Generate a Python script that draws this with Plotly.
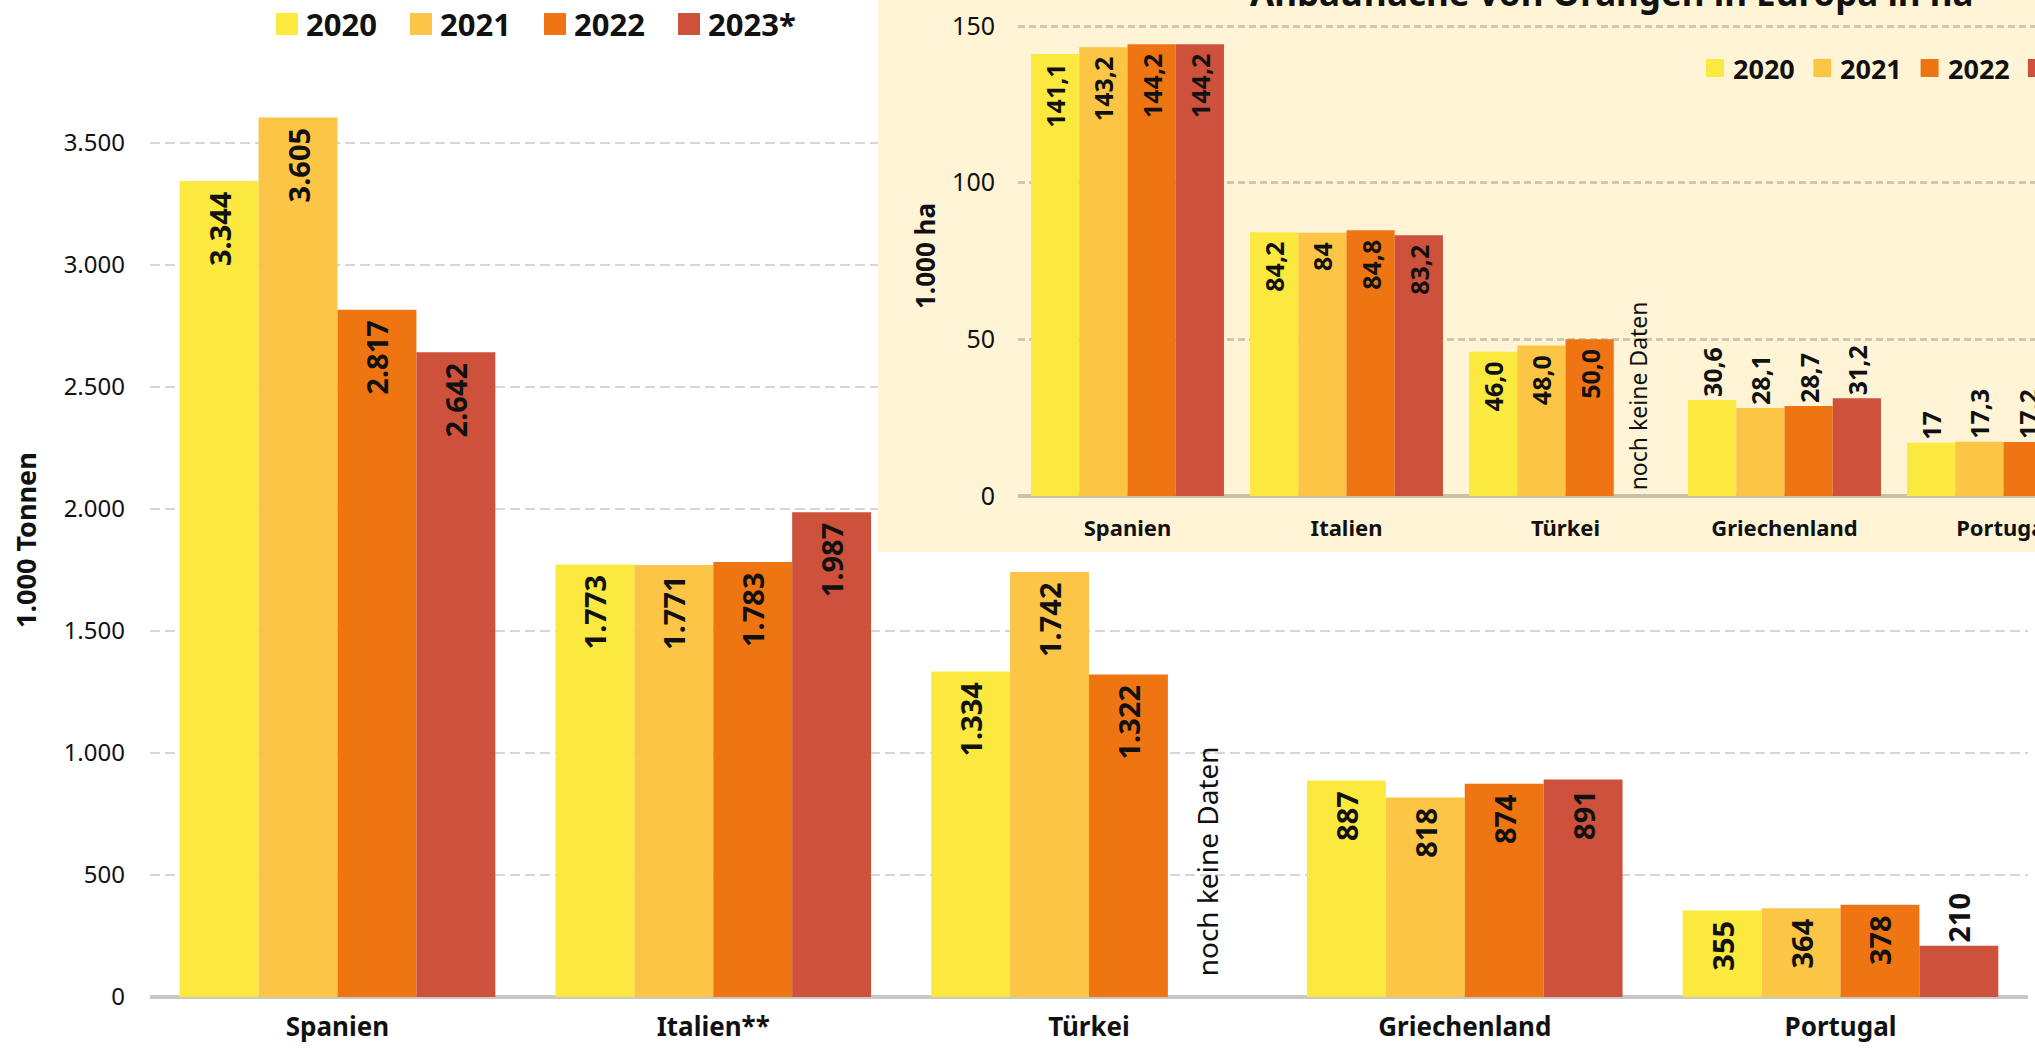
import plotly.graph_objects as go

W, H = 2035, 1048

# ---------------- data ----------------
years = ["2020", "2021", "2022", "2023*"]
inset_years = ["2020", "2021", "2022", "2023"]
colors = ["#FCE93F", "#FDC545", "#EF7512", "#CD513B"]

countries_prod = ["Spanien", "Italien**", "Türkei", "Griechenland", "Portugal"]
prod_2020 = [3344, 1773, 1334, 887, 355]
prod_2021 = [3605, 1771, 1742, 818, 364]
prod_2022 = [2817, 1783, 1322, 874, 378]
prod_2023 = [2642, 1987, None, 891, 210]

countries_area = ["Spanien", "Italien", "Türkei", "Griechenland", "Portugal"]
area_2020 = [141.1, 84.2, 46.0, 30.6, 17]
area_2021 = [143.2, 84, 48.0, 28.1, 17.3]
area_2022 = [144.2, 84.8, 50.0, 28.7, 17.2]
area_2023 = [144.2, 83.2, None, 31.2, None]
area_lbl_2020 = ["141,1", "84,2", "46,0", "30,6", "17"]
area_lbl_2021 = ["143,2", "84", "48,0", "28,1", "17,3"]
area_lbl_2022 = ["144,2", "84,8", "50,0", "28,7", "17,2"]
area_lbl_2023 = ["144,2", "83,2", "", "31,2", ""]

prod_tickvals = [0, 500, 1000, 1500, 2000, 2500, 3000, 3500]
area_tickvals = [0, 50, 100, 150]

no_data_text = "noch keine Daten"
y_title_main = "1.000 Tonnen"
y_title_inset = "1.000 ha"
inset_title = "Anbaufläche von Orangen in Europa in ha"

# ---------------- style ----------------
FONT = "Noto Sans"
CREAM = "#FFF5D6"
TXT = "#111111"
PAD = "\u00a0"


def px2x(px):
    return px / W


def py2y(py):
    return 1 - py / H


# main plot geometry (pixels)
M_LEFT, M_RIGHT, M_TOP, M_BOTTOM, M_ZERO = 150, 2028, 40, 1003, 997
M_FIRST_CENTER, M_SLOT = 337.5, 375.75
k_main = (997 - 143) / 3500.0
main_gap = 0.16
wm = (1 - main_gap) / 4

# inset geometry
C_LEFT, C_BOTTOM = 878, 552
I_LEFT, I_TOP, I_BOTTOM, I_ZERO = 1018, 20, 501, 496
I_FIRST_CENTER, I_SLOT = 1127.5, 219.0
k_inset = (496 - 26) / 150.0
inset_gap = 0.119
wi = (1 - inset_gap) / 4

fig = go.Figure()

prod_series = [prod_2020, prod_2021, prod_2022, prod_2023]
for i, vals in enumerate(prod_series):
    pos = ["outside" if (v is not None and v < 250) else "inside" for v in vals]
    txt = []
    for v, p in zip(vals, pos):
        if v is None:
            txt.append("")
        else:
            s = f"{v:,}".replace(",", ".")
            txt.append(s + PAD if p == "inside" else s)
    fig.add_trace(go.Bar(
        x=countries_prod, y=vals, name=years[i],
        marker=dict(color=colors[i], line=dict(width=0)),
        width=wm, offset=-2 * wm + i * wm,
        text=txt, textposition=pos, textangle=-90, insidetextanchor="end",
        constraintext="none",
        textfont=dict(family=FONT, size=29, color=TXT, weight="bold"),
        xaxis="x", yaxis="y", showlegend=False, hoverinfo="skip",
    ))

# cover subplot (cream box of the inset)
fig.add_trace(go.Scatter(x=[None], y=[None], xaxis="x2", yaxis="y2",
                         mode="markers", showlegend=False, hoverinfo="skip"))

area_series = [area_2020, area_2021, area_2022, area_2023]
area_labels = [area_lbl_2020, area_lbl_2021, area_lbl_2022, area_lbl_2023]
for i, vals in enumerate(area_series):
    pos = ["outside" if (v is not None and v < 40) else "inside" for v in vals]
    txt = [(s + PAD if (p == "inside" and s) else s) for s, p in zip(area_labels[i], pos)]
    fig.add_trace(go.Bar(
        x=countries_area, y=vals, name=inset_years[i],
        marker=dict(color=colors[i], line=dict(width=0)),
        width=wi, offset=-2 * wi + i * wi,
        text=txt, textposition=pos, textangle=-90, insidetextanchor="end",
        constraintext="none",
        textfont=dict(family=FONT, size=25, color=TXT, weight="bold"),
        xaxis="x3", yaxis="y3", showlegend=False, hoverinfo="skip",
    ))

shapes = [dict(type="rect", xref="x2", yref="y2", x0=0, x1=1, y0=0, y1=1,
               fillcolor=CREAM, line=dict(width=0), layer="below")]
annotations = []

# main legend
for i, yr in enumerate(years):
    x0 = 276 + i * 134
    shapes.append(dict(type="rect", xref="paper", yref="paper",
                       x0=px2x(x0), x1=px2x(x0 + 22), y0=py2y(35), y1=py2y(13),
                       fillcolor=colors[i], line=dict(width=0), layer="above"))
    annotations.append(dict(text=yr, xref="paper", yref="paper", x=px2x(x0 + 28), y=py2y(24),
                            xanchor="left", yanchor="middle", showarrow=False,
                            font=dict(family=FONT, size=31, color=TXT, weight="bold")))

# inset legend
for i, yr in enumerate(inset_years):
    x0 = 1706 + i * 107.3
    shapes.append(dict(type="rect", xref="paper", yref="paper",
                       x0=px2x(x0), x1=px2x(x0 + 18), y0=py2y(77), y1=py2y(59),
                       fillcolor=colors[i], line=dict(width=0), layer="above"))
    annotations.append(dict(text=yr, xref="paper", yref="paper", x=px2x(x0 + 25), y=py2y(68),
                            xanchor="left", yanchor="middle", showarrow=False,
                            font=dict(family=FONT, size=27, color=TXT, weight="bold")))

# axis titles
annotations.append(dict(text=y_title_main, xref="paper", yref="paper", x=px2x(25), y=py2y(540),
                        textangle=-90, showarrow=False, xanchor="center", yanchor="middle",
                        font=dict(family=FONT, size=27, color=TXT, weight="bold")))
annotations.append(dict(text=y_title_inset, xref="paper", yref="paper", x=px2x(925), y=py2y(256),
                        textangle=-90, showarrow=False, xanchor="center", yanchor="middle",
                        font=dict(family=FONT, size=26, color=TXT, weight="bold")))

# inset title (cut at top)
annotations.append(dict(text=inset_title, xref="paper", yref="paper", x=px2x(1611), y=py2y(18),
                        xanchor="center", yanchor="bottom", showarrow=False,
                        font=dict(family=FONT, size=35, color=TXT, weight="bold")))

# "noch keine Daten"
t_idx = countries_prod.index("Türkei")
annotations.append(dict(text=no_data_text, xref="x", yref="y",
                        x=t_idx - 2 * wm + 3.5 * wm, y=0, yshift=19,
                        textangle=-90, showarrow=False, xanchor="center", yanchor="bottom",
                        font=dict(family=FONT, size=28, color=TXT)))
t_idx2 = countries_area.index("Türkei")
annotations.append(dict(text=no_data_text, xref="x3", yref="y3",
                        x=t_idx2 - 2 * wi + 3.5 * wi, y=0, yshift=4,
                        textangle=-90, showarrow=False, xanchor="center", yanchor="bottom",
                        font=dict(family=FONT, size=23, color=TXT)))

fig.update_layout(
    width=W, height=H, template="none",
    margin=dict(l=0, r=0, t=0, b=0, pad=0),
    paper_bgcolor="white", plot_bgcolor="rgba(0,0,0,0)",
    barmode="overlay", separators=",.",
    font=dict(family=FONT, color=TXT),
    shapes=shapes, annotations=annotations,
    xaxis=dict(domain=[px2x(M_LEFT), px2x(M_RIGHT)], type="category",
               categoryorder="array", categoryarray=countries_prod,
               range=[(M_LEFT - M_FIRST_CENTER) / M_SLOT, (M_RIGHT - M_FIRST_CENTER) / M_SLOT],
               showgrid=False, zeroline=False,
               showline=False, ticks="", ticklabelstandoff=6, automargin=False,
               tickfont=dict(family=FONT, size=26, color=TXT, weight="bold"), fixedrange=True),
    yaxis=dict(domain=[py2y(M_BOTTOM), py2y(M_TOP)],
               range=[-(M_BOTTOM - M_ZERO) / k_main, (M_ZERO - M_TOP) / k_main],
               tickvals=prod_tickvals, tickformat=",d", showgrid=True,
               gridcolor="#D6D6D6", gridwidth=2, griddash="10px,5px",
               zeroline=True, zerolinecolor="#C8C8C8", zerolinewidth=4,
               showline=False, ticks="", ticklabelstandoff=24, automargin=False,
               tickfont=dict(family=FONT, size=24, color=TXT), fixedrange=True),
    xaxis2=dict(domain=[px2x(C_LEFT), 1], range=[0, 1], visible=False, fixedrange=True),
    yaxis2=dict(domain=[py2y(C_BOTTOM), 1], range=[0, 1], visible=False, fixedrange=True),
    xaxis3=dict(domain=[px2x(I_LEFT), 1], type="category",
                categoryorder="array", categoryarray=countries_area,
                range=[(I_LEFT - I_FIRST_CENTER) / I_SLOT, (W - I_FIRST_CENTER) / I_SLOT],
                showgrid=False, zeroline=False,
                showline=False, ticks="", ticklabelstandoff=12, automargin=False, anchor="y3",
                tickfont=dict(family=FONT, size=22, color=TXT, weight="bold"), fixedrange=True),
    yaxis3=dict(domain=[py2y(I_BOTTOM), py2y(I_TOP)], anchor="x3",
                range=[-(I_BOTTOM - I_ZERO) / k_inset, (I_ZERO - I_TOP) / k_inset],
                tickvals=area_tickvals, showgrid=True,
                gridcolor="#CFC7B0", gridwidth=3, griddash="7px,4px",
                zeroline=True, zerolinecolor="#C9C1AB", zerolinewidth=4,
                showline=False, ticks="", ticklabelstandoff=22, automargin=False,
                tickfont=dict(family=FONT, size=25, color=TXT), fixedrange=True),
)

fig.write_html("out.html", config={"displayModeBar": False})
